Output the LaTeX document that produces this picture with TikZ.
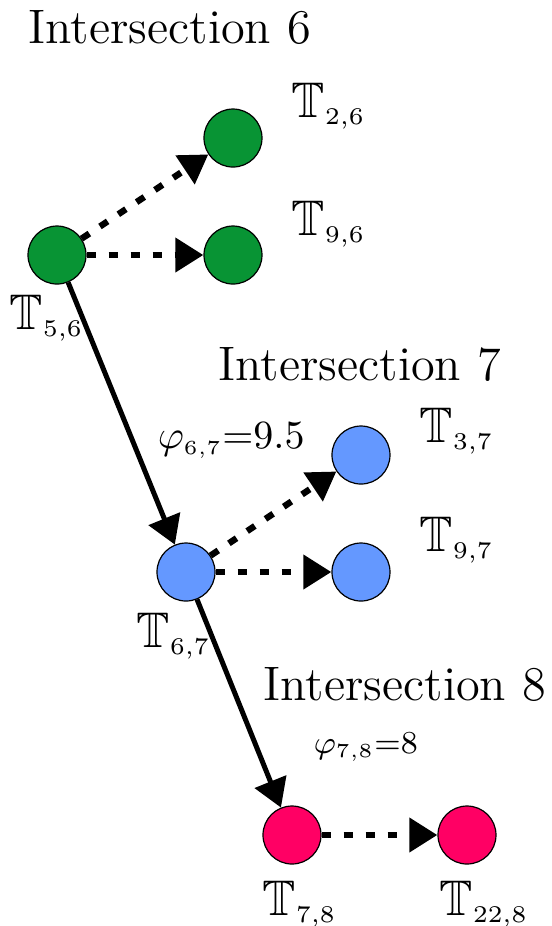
\documentclass[tikz,border=0pt]{standalone}
\usepackage{amsmath, amssymb}
\usetikzlibrary{arrows.meta, positioning}
\definecolor{SixGreen}{RGB}{8,148,52}
\definecolor{SevenBlue}{RGB}{100,152,255}
\definecolor{EightRed}{RGB}{255,0,100}

\begin{document}
\begin{tikzpicture}[x=0.25pt, y=-0.25pt, >={Triangle[length=7pt, width=8.3pt]},
    vertex/.style={circle, draw=black, line width=0.3pt, minimum size=14.5pt, inner sep=0pt},
    flow/.style={->, line width=1.25pt},
    choice/.style={->, line width=1.6pt, dash pattern=on 2.3pt off 3.2pt},
    title/.style={font=\fontsize{12.1}{15}\selectfont, inner sep=0pt, anchor=base west},
    tlabel/.style={font=\fontsize{12.5}{15}\selectfont, inner sep=0pt, anchor=base west},
    cost/.style={inner sep=0pt, anchor=base west}]
    \useasboundingbox (0,0) rectangle (552,926);

    % Intersection 6
    \node[title] (title6) at (28,43) {Intersection 6};
    \node[vertex, fill=SixGreen] (t56) at (57,255) {};
    \node[vertex, fill=SixGreen] (t26) at (233,138) {};
    \node[vertex, fill=SixGreen] (t96) at (233,255) {};
    \node[tlabel] (l56) at (9,329) {$\mathbb{T}_{\scriptscriptstyle 5,6}$};
    \node[tlabel] (l26) at (291,117) {$\mathbb{T}_{\scriptscriptstyle 2,6}$};
    \node[tlabel] (l96) at (291,235) {$\mathbb{T}_{\scriptscriptstyle 9,6}$};

    % Intersection 7
    \node[title] (title7) at (218,380) {Intersection 7};
    \node[vertex, fill=SevenBlue] (t67) at (186,572) {};
    \node[vertex, fill=SevenBlue] (t37) at (361,455) {};
    \node[vertex, fill=SevenBlue] (t97) at (361,572) {};
    \node[tlabel] (l67) at (136,647) {$\mathbb{T}_{\scriptscriptstyle 6,7}$};
    \node[tlabel] (l37) at (419,442) {$\mathbb{T}_{\scriptscriptstyle 3,7}$};
    \node[tlabel] (l97) at (419,551) {$\mathbb{T}_{\scriptscriptstyle 9,7}$};
    \node[cost, font=\fontsize{9.7}{12}\selectfont] (w67) at (157,448) {$\varphi_{\scriptscriptstyle 6,7}{=}9.5$};

    % Intersection 8
    \node[title] (title8) at (263,700) {Intersection 8};
    \node[vertex, fill=EightRed] (t78) at (292,835) {};
    \node[vertex, fill=EightRed] (t228) at (467,835) {};
    \node[tlabel] (l78) at (262,915) {$\mathbb{T}_{\scriptscriptstyle 7,8}$};
    \node[tlabel] (l228) at (439,915) {$\mathbb{T}_{\scriptscriptstyle 22,8}$};
    \node[cost, font=\fontsize{8.2}{10}\selectfont] (w78) at (313,753) {$\varphi_{\scriptscriptstyle 7,8}{=}8$};

    % Chosen route
    \draw[flow] (t56) -- (t67);
    \draw[flow] (t67) -- (t78);

    % Other options
    \foreach \a/\b in {t56/t26, t56/t96, t67/t37, t67/t97, t78/t228}
        \draw[choice] (\a) -- (\b);
\end{tikzpicture}
\end{document}
